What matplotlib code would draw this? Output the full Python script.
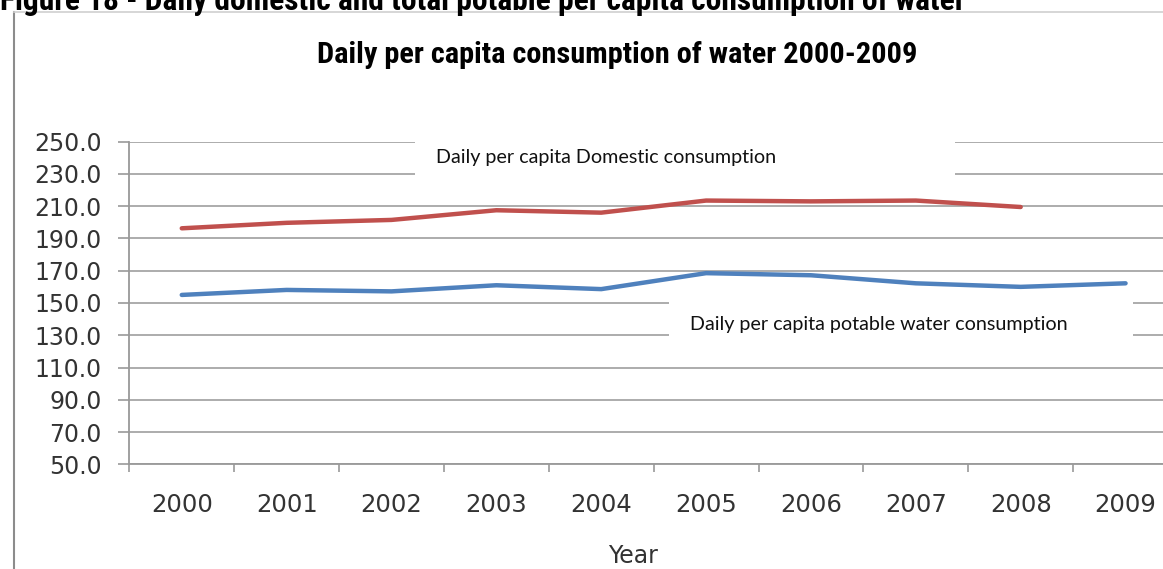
import matplotlib
matplotlib.use("Agg")
import matplotlib.pyplot as plt
from matplotlib import font_manager
from matplotlib.patches import Rectangle
from matplotlib.lines import Line2D

years = ["2000", "2001", "2002", "2003", "2004", "2005", "2006", "2007", "2008", "2009"]
domestic = [196.3, 199.7, 201.5, 207.5, 206.0, 213.5, 213.0, 213.5, 209.5]
potable = [155.0, 158.1, 157.2, 161.0, 158.6, 168.5, 167.2, 162.2, 160.0, 162.2]
yticks = [50, 70, 90, 110, 130, 150, 170, 190, 210, 230, 250]

title = "Daily per capita consumption of water 2000-2009"
caption = "Figure 18 - Daily domestic and total potable per capita consumption of water"
label_dom = "Daily per capita Domestic consumption"
label_pot = "Daily per capita potable water consumption"


def narrow_font():
    fonts = font_manager.fontManager.ttflist
    for name in ("Liberation Sans Narrow", "Roboto Condensed", "Open Sans Condensed",
                 "DejaVu Sans Condensed", "Noto Sans Condensed"):
        if any(f.name == name for f in fonts):
            return {"family": name}
    for f in fonts:
        if f.name in ("DejaVu Sans", "Noto Sans", "Open Sans", "Roboto") and \
                str(f.stretch) in ("condensed", "semi-condensed", "extra-condensed"):
            return {"family": f.name, "fontstretch": f.stretch}
    return {"family": "Roboto"}


installed = {f.name for f in font_manager.fontManager.ttflist}
narrow = narrow_font()
soft = "Lato" if "Lato" in installed else "DejaVu Sans"

red = "#C0504D"
blue = "#4F81BD"
grid = "#a6a6a6"

fig = plt.figure(figsize=(11.63, 5.69), dpi=100)
ax = fig.add_axes([0.1112, 0.184, 0.9017, 0.567])

x_dom = list(range(len(domestic)))
x_pot = list(range(len(potable)))
ax.plot(x_dom, domestic, color=red, lw=3.2, solid_capstyle="round", zorder=4)
ax.plot(x_pot, potable, color=blue, lw=3.2, solid_capstyle="round", zorder=4)

ax.set_xlim(-0.5, len(years) - 0.5)
ax.set_ylim(50, 250)
ax.set_yticks(yticks)
ax.set_yticklabels([f"{v:.1f}" for v in yticks])
ax.set_xticks(range(len(years)))
ax.set_xticklabels(years)
ax.set_xticks([i + 0.5 for i in range(-1, len(years))], minor=True)

ax.grid(axis="y", color=grid, lw=1.3, zorder=1)
for side in ["top", "right"]:
    ax.spines[side].set_visible(False)
for side in ["left", "bottom"]:
    ax.spines[side].set_color("#999999")
    ax.spines[side].set_linewidth(1.3)

ax.tick_params(axis="y", length=8, width=1.2, color="#999999", pad=12,
               labelsize=17, labelcolor="#333333")
ax.tick_params(axis="x", which="major", length=0, pad=21,
               labelsize=17.5, labelcolor="#333333")
ax.tick_params(axis="x", which="minor", length=6, width=1.2, color="#999999")

# white label boxes that break the gridlines
ax.add_patch(Rectangle((2.22, 224), 5.15, 32, facecolor="white", edgecolor="none",
                       zorder=2, clip_on=False))
ax.text(2.42, 240.5, label_dom, ha="left", va="center", fontsize=14.2,
        family=soft, color="#111111", zorder=5)
ax.add_patch(Rectangle((4.65, 121), 4.42, 35, facecolor="white", edgecolor="none",
                       zorder=2))
ax.text(4.85, 136.4, label_pot, ha="left", va="center", fontsize=14.2,
        family=soft, color="#111111", zorder=5)

t_title = fig.text(0.531, 0.903, title, ha="center", va="center", fontsize=20,
                   fontweight="bold", **narrow)
fig.text(0.544, 0.022, "Year", ha="center", va="center", fontsize=17,
         color="#333333")
t_cap = fig.text(0.0, 1 - 10 / 569, caption, ha="left", va="baseline", fontsize=19,
                 fontweight="bold", **narrow)

# fit the bold headings to their widths in pixels
fig.canvas.draw()
for t, width in ((t_title, 600), (t_cap, 965)):
    w = t.get_window_extent().width
    t.set_fontsize(t.get_fontsize() * width / w)

# chart frame
fig.add_artist(Line2D([14 / 1163, 14 / 1163], [0, 1 - 12 / 569], color="#8c8c8c", lw=1.5))
fig.add_artist(Line2D([14 / 1163, 1], [1 - 12 / 569, 1 - 12 / 569], color="#d0d0d0", lw=1.2))

fig.savefig("out.png", dpi=100)
